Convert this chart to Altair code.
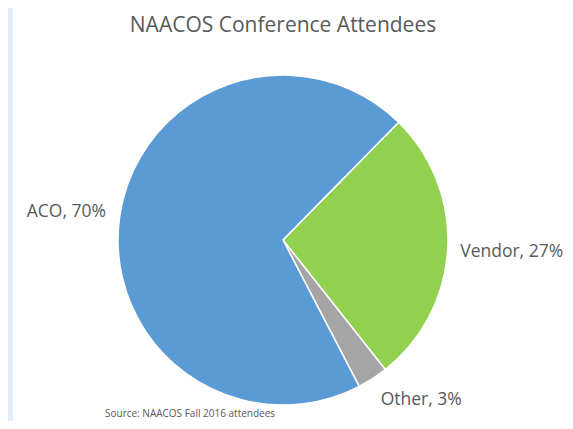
import math
import altair as alt
import pandas as pd

title_text = "NAACOS Conference Attendees"
source_text = "Source:  NAACOS Fall 2016 attendees"
categories = ["Vendor", "Other", "ACO"]
values = [27, 3, 70]
labels = ["Vendor, 27%", "Other, 3%", "ACO, 70%"]
colors = ["#92d050", "#a5a5a5", "#5b9bd5"]

df = pd.DataFrame({
    "category": categories,
    "value": values,
    "label": labels,
    "order": list(range(len(categories))),
})

W, H = 557, 413
CX, CY, R = 275, 232, 165
off = math.radians(44.5)
theta_scale = alt.Scale(domain=[0, 100], range=[off, off + 2 * math.pi])
FONT = "Open Sans"
TXT = "#595959"

base = alt.Chart(df)

panel = base.mark_rect(color="white").encode(
    x=alt.value(5), x2=alt.value(W), y=alt.value(0), y2=alt.value(H)
)

pie = base.mark_arc(radius=R, stroke="white", strokeWidth=1.5).encode(
    theta=alt.Theta("value:Q", scale=theta_scale, stack=True),
    order=alt.Order("order:Q"),
    color=alt.Color("category:N", scale=alt.Scale(domain=categories, range=colors), legend=None),
    x=alt.value(CX),
    y=alt.value(CY),
)

lab_base = base.transform_window(
    cum="sum(value)", sort=[alt.SortField("order")], frame=[None, 0]
).transform_calculate(mid="datum.cum - datum.value / 2")


def label_layer(cat, r, dx=0, dy=0):
    return lab_base.transform_filter(alt.datum.category == cat).mark_text(
        radius=r, dx=dx, dy=dy, font=FONT, fontSize=17.5, color=TXT
    ).encode(
        theta=alt.Theta("mid:Q", scale=theta_scale, stack=None),
        text="label:N",
        x=alt.value(CX),
        y=alt.value(CY),
    )


lab_vendor = label_layer("Vendor", 229)
lab_other = label_layer("Other", 190, dx=35)
lab_aco = label_layer("ACO", 219, dy=4)

title = alt.Chart(pd.DataFrame({"t": [title_text]})).mark_text(
    font=FONT, fontSize=21, color=TXT, baseline="middle"
).encode(text="t:N", x=alt.value(275), y=alt.value(18))

source = alt.Chart(pd.DataFrame({"t": [source_text]})).mark_text(
    font=FONT, fontSize=10, color=TXT, align="left", baseline="middle"
).encode(text="t:N", x=alt.value(97), y=alt.value(406))

chart = alt.layer(panel, pie, lab_vendor, lab_other, lab_aco, title, source).properties(
    width=W, height=H, padding=0, background="#e1edf8",
    autosize=alt.AutoSizeParams(type="fit", contains="padding"),
).configure_view(stroke=None)

chart.save("out.html", embed_options={"renderer": "svg", "actions": False})
